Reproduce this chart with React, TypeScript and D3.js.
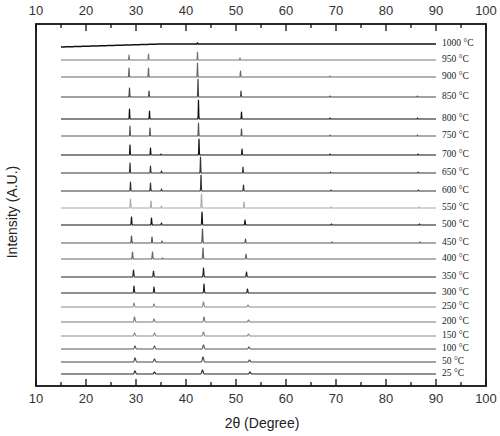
import React from "react";
import * as d3 from "d3";

// Sample temperatures (top to bottom)
const temps = ["1000", "950", "900", "850", "800", "750", "700", "650", "600", "550", "500", "450", "400", "350", "300", "250", "200", "150", "100", "50", "25"];
// Vertical stacking offset of each pattern (A.U.)
const offsets = [342, 326, 309, 289, 267, 250, 231, 213, 195, 178, 161, 143, 127, 109, 93, 79, 64, 50, 37, 24, 12];
// Peak near 29°
const p1Pos = [28.6, 28.6, 28.6, 28.7, 28.7, 28.8, 28.8, 28.8, 28.9, 28.9, 29.1, 29.1, 29.3, 29.5, 29.6, 29.6, 29.7, 29.7, 29.8, 29.8, 29.8];
const p1H = [0, 5, 9, 9, 10, 10, 10, 10, 9, 9, 8, 7, 7, 7, 7, 4, 5, 3, 3, 4, 3];
// Peak near 33°
const p2Pos = [32.5, 32.5, 32.5, 32.6, 32.7, 32.8, 32.9, 32.9, 32.9, 33.0, 33.1, 33.2, 33.3, 33.5, 33.6, 33.6, 33.6, 33.7, 33.7, 33.7, 33.7];
const p2H = [0, 6, 9, 6, 8, 8, 7, 7, 8, 7, 7, 6, 7, 6, 6, 3, 3, 3, 3, 3, 2];
// Minor peak near 35°
const p35Pos = [35.0, 35.0, 35.0, 35.0, 35.0, 35.0, 35.0, 35.1, 35.1, 35.1, 35.1, 35.2, 35.3, 35.4, 35.4, 35.4, 35.4, 35.4, 35.4, 35.4, 35.4];
const p35H = [0, 0, 0, 0, 0, 0, 1, 2, 2, 2, 2, 2, 1, 0, 0, 0, 0, 0, 0, 0, 0];
// Peak near 43°
const p3Pos = [42.3, 42.3, 42.3, 42.4, 42.5, 42.5, 42.6, 42.9, 43.0, 43.1, 43.2, 43.3, 43.4, 43.5, 43.6, 43.5, 43.6, 43.5, 43.5, 43.4, 43.3];
const p3H = [1, 8, 14, 18, 19, 13, 16, 16, 16, 14, 13, 14, 11, 9, 9, 5, 5, 4, 4, 5, 4];
// Peak near 52°
const p4Pos = [50.8, 50.8, 50.9, 51.0, 51.1, 51.1, 51.2, 51.4, 51.5, 51.6, 51.8, 51.9, 52.0, 52.1, 52.3, 52.4, 52.5, 52.5, 52.6, 52.7, 52.8];
const p4H = [0, 2, 6, 6, 7, 7, 6, 6, 6, 6, 5, 4, 5, 5, 4, 2, 2, 2, 2, 2, 2];
// Weak peaks near 69° and 86°
const p5Pos = [68.8, 68.8, 68.8, 68.8, 68.8, 68.8, 68.8, 68.9, 69.0, 69.0, 69.1, 69.2, 69.3, 69.4, 69.5, 69.5, 69.5, 69.5, 69.5, 69.5, 69.5];
const p5H = [0, 0, 1, 1, 1, 1, 1, 1, 1, 1, 1, 1, 0, 0, 0, 0, 0, 0, 0, 0, 0];
const p6Pos = [86.2, 86.2, 86.2, 86.3, 86.3, 86.3, 86.4, 86.4, 86.5, 86.6, 86.7, 86.8, 86.9, 87.0, 87.1, 87.1, 87.1, 87.1, 87.1, 87.1, 87.1];
const p6H = [0, 0, 0, 1, 1, 1, 1, 1, 1, 1, 1, 1, 0, 0, 0, 0, 0, 0, 0, 0, 0];
// Peak width (degrees)
const widths = [0.05, 0.05, 0.05, 0.05, 0.05, 0.05, 0.05, 0.05, 0.055, 0.06, 0.06, 0.06, 0.065, 0.07, 0.07, 0.1, 0.1, 0.11, 0.12, 0.13, 0.13];
// Low-angle background drop (A.U.)
const lowBg = [3, 0, 0, 0, 0, 0, 0, 0, 0, 0, 0, 0, 0, 0, 0, 0, 0, 0, 0, 0, 0];
// Trace colours
const colors = ["#111", "#777", "#666", "#444", "#111", "#555", "#111", "#333", "#333", "#aaa", "#111", "#555", "#666", "#222", "#222", "#888", "#777", "#888", "#555", "#444", "#222"];

const xTicks = [10, 20, 30, 40, 50, 60, 70, 80, 90, 100];
const xMinor = [15, 25, 35, 45, 55, 65, 75, 85, 95];
const scanStart = 15;
const scanEnd = 90;

const W = 500, H = 436;
const M = { left: 36, right: 14, top: 24, bottom: 50 };

export default function App() {
  const x = d3.scaleLinear().domain([10, 100]).range([M.left, W - M.right]);
  const y = d3.scaleLinear().domain([0, 362]).range([H - M.bottom, M.top]);
  const line = d3.line<[number, number]>().x((d) => x(d[0])).y((d) => y(d[1]));

  const traces = temps.map((t, i) => {
    const peaks: [number, number][] = [
      [p1Pos[i], p1H[i]],
      [p2Pos[i], p2H[i]],
      [p35Pos[i], p35H[i]],
      [p3Pos[i], p3H[i]],
      [p4Pos[i], p4H[i]],
      [p5Pos[i], p5H[i]],
      [p6Pos[i], p6H[i]],
    ];
    const s = widths[i];
    const pts: [number, number][] = [];
    const step = 0.01;
    for (let k = 0; k <= (scanEnd - scanStart) / step; k++) {
      const tt = scanStart + k * step;
      let v = offsets[i];
      if (tt < 35) v -= lowBg[i] * (35 - tt) / 20;
      for (const [p, h] of peaks) {
        if (h > 0) v += h * Math.exp(-((tt - p) ** 2) / (2 * s * s));
      }
      pts.push([tt, v]);
    }
    return { t, d: line(pts) || "", color: colors[i], yb: y(offsets[i]), w: i === 0 ? 1.5 : 1.1 };
  });

  const y0 = y.range()[0];
  const y1 = y.range()[1];
  const sans = "'Liberation Sans', Arial, sans-serif";
  const serif = "'Liberation Serif', 'Times New Roman', serif";

  return (
    <svg width={W} height={H} style={{ position: "absolute", left: 0, top: 0, background: "#fff" }}>
      <rect x={0} y={0} width={W} height={H} fill="#fff" />
      {traces.map((tr) => (
        <g key={tr.t}>
          <path d={tr.d} fill="none" stroke={tr.color} strokeWidth={tr.w} strokeLinejoin="round" />
          <text x={x(90) + 6} y={tr.yb} dominantBaseline="middle" fontFamily={serif} fontSize={9.5} fill="#222">
            {tr.t} °C
          </text>
        </g>
      ))}
      {/* frame */}
      <rect x={M.left} y={M.top} width={W - M.left - M.right} height={H - M.top - M.bottom} fill="none" stroke="#111" strokeWidth={1.8} />
      {/* ticks */}
      {xTicks.map((v) => (
        <g key={"M" + v}>
          <line x1={x(v)} x2={x(v)} y1={y0} y2={y0 - 7} stroke="#111" strokeWidth={1.3} />
          <line x1={x(v)} x2={x(v)} y1={y1} y2={y1 + 7} stroke="#111" strokeWidth={1.3} />
          <text x={x(v)} y={y0 + 17} textAnchor="middle" fontFamily={sans} fontSize={13} fill="#333">{v}</text>
          <text x={x(v)} y={y1 - 9} textAnchor="middle" fontFamily={sans} fontSize={13} fill="#333">{v}</text>
        </g>
      ))}
      {xMinor.map((v) => (
        <g key={"m" + v}>
          <line x1={x(v)} x2={x(v)} y1={y0} y2={y0 - 4} stroke="#111" strokeWidth={1.3} />
          <line x1={x(v)} x2={x(v)} y1={y1} y2={y1 + 4} stroke="#111" strokeWidth={1.3} />
        </g>
      ))}
      <text x={262} y={428} textAnchor="middle" fontFamily={sans} fontSize={14} fill="#222">2θ (Degree)</text>
      <text transform={`translate(17, 212) rotate(-90)`} textAnchor="middle" fontFamily={sans} fontSize={14} fill="#222">Intensity (A.U.)</text>
    </svg>
  );
}
